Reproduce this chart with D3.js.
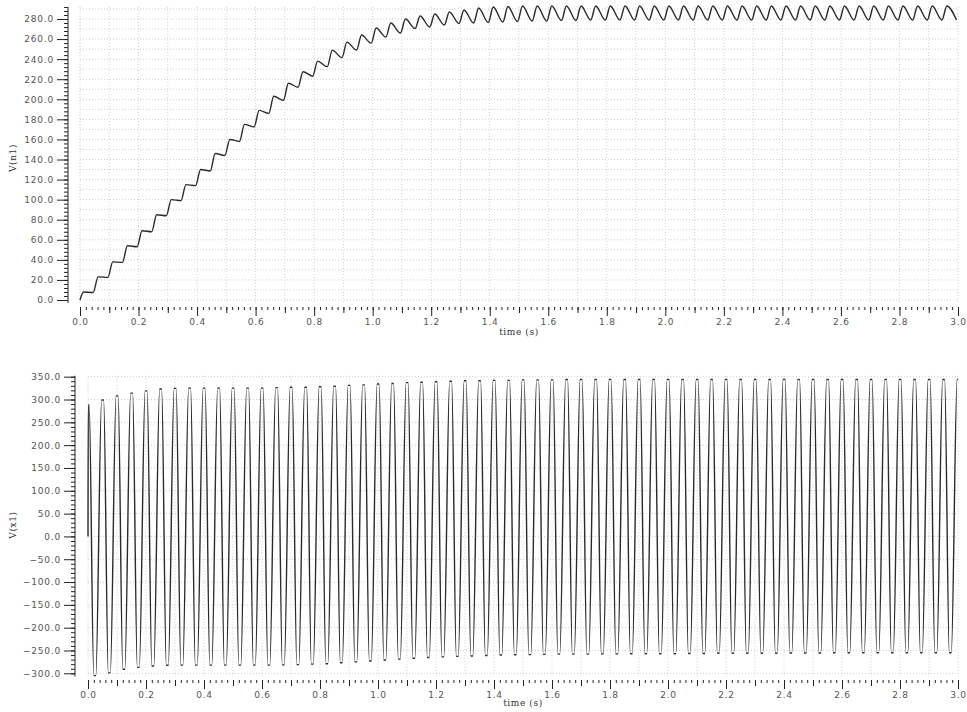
<!DOCTYPE html>
<html>
<head>
<meta charset="utf-8">
<script src="https://cdn.jsdelivr.net/npm/d3@7"></script>
<style>
body { margin: 0; background: #fff; }
svg { display: block; background: #fff; }
.tick text { font-family: "DejaVu Sans", sans-serif; font-size: 9px; fill: #555; letter-spacing: 0.8px; }
.tick line { stroke: #222; }
.axis-title { font-family: "DejaVu Serif", serif; font-size: 9px; fill: #333; letter-spacing: 0.6px; }
.grid line { stroke: #cfcfcf; stroke-dasharray: 1,2; stroke-width: 1; }
.trace { fill: none; stroke: #2a2a2a; stroke-width: 1.4; }
</style>
</head>
<body>
<svg id="chart" width="967" height="712"></svg>
<script>
// one cycle = 20 Hz
const period = 0.05

// V(n1): value at the top of each step / crest, and just before the next rise
const topPeaks = [
  8, 23, 38, 54, 69, 85, 100, 115, 130, 146, 160, 175, 189, 203, 216,
  227.5, 238, 249, 257, 264, 271, 276, 280, 283, 285, 287, 289, 291, 292, 292.5,
  293, 293, 293, 293, 293, 293, 293, 293, 293, 293, 293, 293, 293, 293, 293,
  293, 293, 293, 293, 293, 293, 293, 293, 293, 293, 293, 293, 293, 293, 293
]
const topTroughs = [
  7.5, 22.5, 37.5, 53, 68, 84, 99, 114, 128.5, 144, 158, 172.5, 186, 199, 212,
  223, 232.5, 241.5, 249, 256, 262, 266, 270.5, 272, 274, 275.5, 276, 276.5, 277, 277.5,
  278, 278, 278.5, 278.5, 279, 279, 279, 279, 279, 279, 279, 279, 279, 279, 279,
  279, 279, 279, 279, 279, 279, 279, 279, 279, 279, 279, 279, 279, 279, 279
]
const topPeakOffset = 0.012
const topTroughOffset = 0.045

// V(x1): crest and trough of each cycle
const bottomPeaks = [
  288, 299, 308, 314, 319, 323, 324.5, 325, 325, 325,
  325, 325, 325, 326, 327, 327, 328, 329, 331, 332,
  334, 335, 337, 338, 339, 340, 341, 341, 342, 342,
  343, 343, 343, 344, 344, 344, 344, 344, 344, 344,
  344, 344, 344, 344, 344, 344, 344, 344, 344, 344,
  344, 344, 344, 344, 344, 344, 344, 344, 344, 344, 344
]
const bottomTroughs = [
  -305, -299, -291, -287, -284, -282.5, -282, -282, -282, -282,
  -282, -282, -282, -281.5, -281, -280, -279, -277, -275, -273,
  -271, -269, -267, -265.5, -264, -263, -262, -261, -260, -259.5,
  -259, -258.5, -258, -258, -258, -257.5, -257.5, -257, -257, -257,
  -257, -256.5, -256.5, -256, -256, -256, -256, -256, -255.5, -255.5,
  -255.5, -255, -255, -255, -255, -255, -255, -255, -255, -255
]
// where in the cycle the crest and trough start / end
const crestSpan = [-0.003, 0.004]
const troughSpan = [0.020, 0.027]

// ticks
const xTicks = d3.range(0, 3.0001, 0.2)
const xMidTicks = d3.range(0.1, 3, 0.2)
const xMinorTicks = d3.range(0, 3.0001, 0.02)
const xGrid = d3.range(0, 3.0001, 0.1)
const topYTicks = d3.range(0, 281, 20)
const topYMinor = d3.range(0, 293, 4)
const topYGrid = d3.range(0, 291, 10)
const bottomYTicks = d3.range(-300, 351, 50)
const bottomYMinor = d3.range(-300, 351, 10)
const bottomYGrid = d3.range(-300, 351, 50)

const svg = d3.select('#chart')

function topSeries() {
  const pts = [{ t: 0, v: 0 }]
  topPeaks.forEach((v, k) => {
    pts.push({ t: k * period + topPeakOffset, v: v })
    pts.push({ t: k * period + topTroughOffset, v: topTroughs[k] })
  })
  return pts
}

function bottomSeries() {
  const pts = [{ t: 0, v: 0 }]
  bottomPeaks.forEach((v, k) => {
    pts.push({ t: Math.max(0.001, k * period + crestSpan[0]), v: v })
    pts.push({ t: k * period + crestSpan[1], v: v })
    if (k < bottomTroughs.length) {
      pts.push({ t: k * period + troughSpan[0], v: bottomTroughs[k] })
      pts.push({ t: k * period + troughSpan[1], v: bottomTroughs[k] })
    }
  })
  return pts
}

function drawPanel(p, id) {
  const x = d3.scaleLinear().domain([0, 3]).range(p.xRange)
  const y = d3.scaleLinear().domain(p.yDomain).range(p.yRange)
  const g = svg.append('g')

  const grid = g.append('g').attr('class', 'grid')
  grid.selectAll('line.gv').data(xGrid).join('line')
    .attr('class', 'gv')
    .attr('x1', d => x(d)).attr('x2', d => x(d))
    .attr('y1', y(p.yExtent[1])).attr('y2', y(p.yExtent[0]))
  grid.selectAll('line.gh').data(p.yGrid).join('line')
    .attr('class', 'gh')
    .attr('x1', p.xRange[0]).attr('x2', p.xRange[1])
    .attr('y1', d => y(d)).attr('y2', d => y(d))

  // x axis: minor, mid and labelled ticks
  const xa = g.append('g').attr('transform', `translate(0,${p.xAxisY})`)
  xa.append('g').call(d3.axisBottom(x).tickValues(xMinorTicks).tickSize(3).tickFormat(''))
  xa.append('g').call(d3.axisBottom(x).tickValues(xMidTicks).tickSize(6).tickFormat(''))
  xa.append('g').call(d3.axisBottom(x).tickValues(xTicks).tickSize(9).tickPadding(3).tickFormat(d3.format('.1f')))
  xa.selectAll('.domain').remove()

  // y axis
  const ya = g.append('g').attr('transform', `translate(${p.yAxisX},0)`)
  ya.append('g').call(d3.axisLeft(y).tickValues(p.yMinor).tickSize(4).tickFormat(''))
  ya.append('g').call(d3.axisLeft(y).tickValues(p.yTicks).tickSize(11).tickPadding(3).tickFormat(d3.format('.1f')))
  ya.selectAll('.domain').remove()
  ya.append('line')
    .attr('y1', y(p.yExtent[0])).attr('y2', y(p.yExtent[1]))
    .attr('stroke', '#222')

  g.append('text').attr('class', 'axis-title')
    .attr('x', (p.xRange[0] + p.xRange[1]) / 2).attr('y', p.titleY)
    .attr('text-anchor', 'middle').text('time (s)')
  g.append('text').attr('class', 'axis-title')
    .attr('transform', `translate(16,${p.yLabelY}) rotate(-90)`)
    .attr('text-anchor', 'middle').text(p.yLabel)

  g.append('clipPath').attr('id', id)
    .append('rect')
    .attr('x', p.xRange[0] - 2).attr('y', 0)
    .attr('width', p.xRange[1] - p.xRange[0] + 2).attr('height', 712)

  const line = d3.line().x(d => x(d.t)).y(d => y(d.v)).curve(d3.curveMonotoneX)
  g.append('path').attr('class', 'trace')
    .attr('clip-path', `url(#${id})`)
    .attr('d', line(p.data))
}

drawPanel({
  xRange: [80, 958], yDomain: [0, 280], yRange: [300, 19], yExtent: [-3, 292],
  yTicks: topYTicks, yMinor: topYMinor, yGrid: topYGrid,
  xAxisY: 307, yAxisX: 68, titleY: 335, yLabelY: 158, yLabel: 'V(n1)',
  data: topSeries()
}, 'clip-top')

drawPanel({
  xRange: [88, 958], yDomain: [-300, 350], yRange: [673.3, 376.7], yExtent: [-307, 352],
  yTicks: bottomYTicks, yMinor: bottomYMinor, yGrid: bottomYGrid,
  xAxisY: 680, yAxisX: 75, titleY: 706, yLabelY: 525, yLabel: 'V(x1)',
  data: bottomSeries()
}, 'clip-bottom')
</script>
</body>
</html>
